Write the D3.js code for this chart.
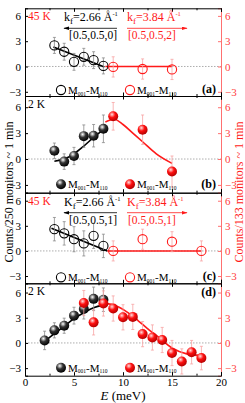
<!DOCTYPE html>
<html>
<head>
<meta charset="utf-8">
<title></title>
<script src="https://d3js.org/d3.v7.min.js"></script>
<style>
body { margin: 0; background: #fff; }
svg { display: block; font-family: "Liberation Serif", "DejaVu Serif", serif; }
</style>
</head>
<body>
<div id="chart"></div>
<script>
const W = 245, H = 403;

// ---- data ----
// (a) 45 K, [0.5,0.5,0] / [0.5,0.5,2]
const aBlackE = [3, 4, 5, 6, 7, 8];
const aBlackY = [2.5, 1.75, 0.55, 1.15, 0.75, 0.07];
const aBlackErr = [0.95, 1.0, 1.0, 1.0, 1.0, 0.95];
const aRedE = [9, 12, 15];
const aRedY = [-0.05, -0.3, -0.35];
const aRedErr = [1.2, 1.2, 1.2];
const aBlackFitE = [2.9, 8.1];
const aBlackFitY = [2.3, -0.05];
const aRedFitE = [8.2, 15];
const aRedFitY = [0, 0];

// (b) 2 K
const bBlackE = [3, 4, 5, 6, 7, 8];
const bBlackY = [0.95, -0.3, 0.35, 2.65, 2.7, 3.5];
const bBlackErr = [0.9, 0.9, 1.0, 1.3, 1.3, 1.6];
const bRedE = [9, 12, 15];
const bRedY = [4.95, 3.4, -1.45];
const bRedErr = [1.6, 1.7, 1.8];
const bBlackFitE = [3, 4, 5, 6, 7, 8];
const bBlackFitY = [-0.25, 0.0, 0.6, 1.5, 2.5, 3.4];
const bRedFitE = [8.2, 9.1, 10, 11, 12, 13.4, 15];
const bRedFitY = [4.3, 4.6, 4.0, 3.0, 2.0, 0.6, -0.5];

// (c) 45 K, [0.5,0.5,1]
const cBlackE = [3, 4, 5, 6, 7, 8];
const cBlackY = [2.6, 2.1, 1.4, 0.9, 1.8, 0.6];
const cBlackErr = [1.4, 1.4, 1.5, 1.5, 1.5, 1.4];
const cRedE = [9, 12, 15, 18];
const cRedY = [0.0, 1.4, 1.1, 0.0];
const cRedErr = [1.2, 1.2, 1.2, 1.2];
const cBlackFitE = [2.7, 8.4];
const cBlackFitY = [2.7, 0];
const cRedFitE = [8.4, 18];
const cRedFitY = [0, 0];

// (d) 2 K
const dBlackE = [2, 3, 4, 5, 6, 7, 8];
const dBlackY = [0.3, 1.5, 2.05, 3.25, 4.05, 5.25, 5.15];
const dBlackErr = [1.1, 0.9, 0.9, 1.0, 1.2, 1.4, 1.4];
const dRedE = [6, 7, 8, 9, 10, 11, 12, 13, 14, 15, 16, 17, 18];
const dRedY = [4.75, 2.45, 4.7, 4.1, 3.05, 3.1, 1.05, 0.65, 0.35, -1.2, -2.2, -1.1, -1.8];
const dRedErr = [1.5, 1.5, 1.5, 1.5, 1.5, 1.5, 1.5, 1.5, 1.5, 1.5, 1.5, 1.4, 1.4];
const dBlackFitE = [2, 3, 4, 5, 6, 7, 8];
const dBlackFitY = [0.2, 1.1, 2.0, 2.9, 3.6, 4.2, 4.5];
const dRedFitE = [7.7, 8.5, 9.5, 10.5, 11.5, 12.5, 13.5, 15, 16.5, 18];
const dRedFitY = [4.6, 4.65, 4.3, 3.6, 2.7, 1.7, 0.8, -0.6, -1.3, -1.5];

const xTicks = [0, 5, 10, 15, 20];
const xMinorTicks = [2.5, 7.5, 12.5, 17.5];
const yTicks = [-3, 0, 3, 6];

const panels = [
  { id: 'a', top: 8.3, bottom: 96, dom: [-3.5, 6.9], open: true, temp: '45 K',
    bE: aBlackE, bY: aBlackY, bErr: aBlackErr, rE: aRedE, rY: aRedY, rErr: aRedErr,
    bfE: aBlackFitE, bfY: aBlackFitY, rfE: aRedFitE, rfY: aRedFitY,
    kLetter: 'k', qB: '[0.5,0.5,0]', qR: '[0.5,0.5,2]' },
  { id: 'b', top: 96, bottom: 192.7, dom: [-3.9, 7.3], open: false, temp: '2 K',
    bE: bBlackE, bY: bBlackY, bErr: bBlackErr, rE: bRedE, rY: bRedY, rErr: bRedErr,
    bfE: bBlackFitE, bfY: bBlackFitY, rfE: bRedFitE, rfY: bRedFitY },
  { id: 'c', top: 192.7, bottom: 283.3, dom: [-3.87, 6.96], open: true, temp: '45 K',
    bE: cBlackE, bY: cBlackY, bErr: cBlackErr, rE: cRedE, rY: cRedY, rErr: cRedErr,
    bfE: cBlackFitE, bfY: cBlackFitY, rfE: cRedFitE, rfY: cRedFitY,
    kLetter: 'K', qB: '[0.5,0.5,1]', qR: '[0.5,0.5,1]' },
  { id: 'd', top: 283.3, bottom: 375.7, dom: [-3.9, 7.1], open: false, temp: '2 K',
    bE: dBlackE, bY: dBlackY, bErr: dBlackErr, rE: dRedE, rY: dRedY, rErr: dRedErr,
    bfE: dBlackFitE, bfY: dBlackFitY, rfE: dRedFitE, rfY: dRedFitY }
];

const RED = '#ff1a1a', PINK = '#f7a3a3', AXRED = '#ff7070';
const left = 25, right = 221;
const x = d3.scaleLinear().domain([0, 20]).range([left, right]);

const svg = d3.select('#chart').append('svg').attr('width', W).attr('height', H);
const defs = svg.append('defs');

function sphere(id, c0, c1, c2) {
  const g = defs.append('radialGradient').attr('id', id)
    .attr('cx', '0.38').attr('cy', '0.32').attr('r', '0.7');
  g.append('stop').attr('offset', '0').attr('stop-color', c0);
  g.append('stop').attr('offset', '0.45').attr('stop-color', c1);
  g.append('stop').attr('offset', '1').attr('stop-color', c2);
}
sphere('sBlack', '#ffffff', '#333333', '#000000');
sphere('sRed', '#ffe0e0', '#ff1010', '#b00000');

function arrowHead(id, color) {
  defs.append('marker').attr('id', id).attr('viewBox', '0 0 10 6')
    .attr('refX', 9).attr('refY', 3).attr('markerWidth', 6).attr('markerHeight', 3.6)
    .attr('orient', 'auto').attr('markerUnits', 'userSpaceOnUse')
    .append('path').attr('d', 'M0,0L10,3L0,6Z').attr('fill', color);
}
arrowHead('arB', '#000');
arrowHead('arR', RED);

function addSubLabel(sel, parts) {
  parts.forEach(p => {
    const t = sel.append('tspan').text(p.t);
    if (p.sub) t.attr('font-size', p.fs || 6).attr('dy', p.dy);
    else if (p.dy) t.attr('dy', p.dy);
  });
}

panels.forEach(p => {
  const y = d3.scaleLinear().domain(p.dom).range([p.bottom, p.top]);
  const g = svg.append('g');

  // zero line
  g.append('line').attr('x1', left).attr('x2', right)
    .attr('y1', y(0)).attr('y2', y(0))
    .attr('stroke', '#999').attr('stroke-width', 0.8).attr('stroke-dasharray', '1.5,1.5');

  // axes
  const yl = g.append('g').attr('transform', `translate(${left},0)`)
    .call(d3.axisLeft(y).tickValues(yTicks).tickSize(-3).tickPadding(4).tickFormat(d3.format('d')));
  yl.select('.domain').attr('stroke', '#000');
  yl.selectAll('text').attr('font-size', 11).attr('font-family', 'Liberation Serif').attr('fill', '#000');

  const yr = g.append('g').attr('transform', `translate(${right},0)`)
    .call(d3.axisRight(y).tickValues(yTicks).tickSize(-3).tickPadding(4).tickFormat(d3.format('d')));
  yr.select('.domain').attr('stroke', AXRED);
  yr.selectAll('line').attr('stroke', AXRED);
  yr.selectAll('text').attr('font-size', 11).attr('font-family', 'Liberation Serif').attr('fill', '#ff4040');

  const xb = g.append('g').attr('transform', `translate(0,${p.bottom})`)
    .call(d3.axisBottom(x).tickValues(xTicks).tickSize(-3.5).tickPadding(2).tickFormat(p.id === 'd' ? d3.format('d') : ''));
  xb.select('.domain').attr('stroke', '#000');
  xb.selectAll('text').attr('font-size', 11).attr('font-family', 'Liberation Serif').attr('fill', '#000');
  g.append('g').attr('transform', `translate(0,${p.bottom})`)
    .call(d3.axisBottom(x).tickValues(xMinorTicks).tickSize(-2).tickFormat(''))
    .select('.domain').remove();
  const xt = g.append('g').attr('transform', `translate(0,${p.top})`)
    .call(d3.axisTop(x).tickValues(xTicks).tickSize(-3.5).tickFormat(''));
  xt.select('.domain').attr('stroke', '#000');
  g.append('g').attr('transform', `translate(0,${p.top})`)
    .call(d3.axisTop(x).tickValues(xMinorTicks).tickSize(-2).tickFormat(''))
    .select('.domain').remove();

  // fit lines
  const line = d3.line().x(d => x(d[0])).y(d => y(d[1])).curve(d3.curveMonotoneX);
  g.append('path').datum(p.bfE.map((e, i) => [e, p.bfY[i]]))
    .attr('d', line).attr('fill', 'none').attr('stroke', '#000').attr('stroke-width', 1.6);
  g.append('path').datum(p.rfE.map((e, i) => [e, p.rfY[i]]))
    .attr('d', line).attr('fill', 'none').attr('stroke', RED).attr('stroke-width', 1.6);

  // error bars + markers
  function series(E, V, Err, ecol, fill, stroke) {
    const d = E.map((e, i) => ({ e, v: V[i], err: Err[i] }));
    g.selectAll(null).data(d).join('line')
      .attr('x1', d => x(d.e)).attr('x2', d => x(d.e))
      .attr('y1', d => y(d.v - d.err)).attr('y2', d => y(d.v + d.err))
      .attr('stroke', ecol).attr('stroke-width', 0.8);
    ['-', '+'].forEach(s => {
      g.selectAll(null).data(d).join('line')
        .attr('x1', d => x(d.e) - 1.5).attr('x2', d => x(d.e) + 1.5)
        .attr('y1', d => y(s === '-' ? d.v - d.err : d.v + d.err))
        .attr('y2', d => y(s === '-' ? d.v - d.err : d.v + d.err))
        .attr('stroke', ecol).attr('stroke-width', 0.8);
    });
    g.selectAll(null).data(d).join('circle')
      .attr('cx', d => x(d.e)).attr('cy', d => y(d.v)).attr('r', p.open ? 4.6 : 5)
      .attr('fill', fill).attr('stroke', stroke).attr('stroke-width', p.open ? 1.1 : 0);
  }
  series(p.bE, p.bY, p.bErr, '#8a8a8a', p.open ? 'none' : 'url(#sBlack)', '#000');
  series(p.rE, p.rY, p.rErr, PINK, p.open ? 'none' : 'url(#sRed)', RED);

  // temperature label
  g.append('text').attr('x', 28).attr('y', p.top + 12).attr('font-size', 11.5)
    .attr('fill', p.open ? RED : '#000').text(p.temp);

  // panel letter
  const ly = p.open ? p.bottom - 3 : (p.id === 'b' ? p.bottom - 5 : p.top + 13);
  g.append('text').attr('x', 216).attr('y', ly).attr('text-anchor', 'end')
    .attr('font-size', 12).attr('font-weight', 'bold').text(`(${p.id})`);

  // legend
  const legY = p.open ? p.bottom - 6 : (p.id === 'b' ? p.bottom - 8.5 : p.bottom - 8);
  [[61, p.open ? 'none' : 'url(#sBlack)', '#000'], [130, p.open ? 'none' : 'url(#sRed)', RED]].forEach(([cx, f, s]) => {
    g.append('circle').attr('cx', cx).attr('cy', legY).attr('r', p.open ? 4.6 : 5)
      .attr('fill', f).attr('stroke', s).attr('stroke-width', p.open ? 1.1 : 0);
    const t = g.append('text').attr('x', cx + 7).attr('y', legY + 4).attr('font-size', 11).attr('fill', '#000');
    addSubLabel(t, [{ t: 'M' }, { t: '001', sub: true, fs: 5.5, dy: 1.5 }, { t: '-M', dy: -1.5 },
      { t: '110', sub: true, fs: 5.5, dy: 1.5 }]);
  });

  // kf annotations
  if (p.open) {
    const ky = p.top + 13;
    const kb = g.append('text').attr('x', 64).attr('y', ky).attr('font-size', 12).attr('fill', '#000');
    addSubLabel(kb, [{ t: p.kLetter }, { t: 'f', sub: true, fs: 9, dy: 3 }, { t: '=2.66 Å', dy: -3 },
      { t: '-1', sub: true, fs: 6.5, dy: -5 }]);
    const kr = g.append('text').attr('x', 127).attr('y', ky).attr('font-size', 12).attr('fill', RED);
    addSubLabel(kr, [{ t: p.kLetter }, { t: 'f', sub: true, fs: 9, dy: 3 }, { t: '=3.84 Å', dy: -3 },
      { t: '-1', sub: true, fs: 6.5, dy: -5 }]);
    const ay = p.top + 20;
    g.append('line').attr('x1', 117).attr('x2', 64).attr('y1', ay).attr('y2', ay)
      .attr('stroke', '#000').attr('stroke-width', 0.8).attr('marker-end', 'url(#arB)');
    g.append('line').attr('x1', 127).attr('x2', 187).attr('y1', ay).attr('y2', ay)
      .attr('stroke', RED).attr('stroke-width', 0.8).attr('marker-end', 'url(#arR)');
    g.append('text').attr('x', 117).attr('y', p.top + 31).attr('text-anchor', 'end')
      .attr('font-size', 11.5).attr('fill', '#000').text(p.qB);
    g.append('text').attr('x', 128).attr('y', p.top + 31)
      .attr('font-size', 11.5).attr('fill', RED).text(p.qR);
  }
});

// axis titles
const midY = (8.3 + 375.7) / 2;
svg.append('text').attr('transform', `translate(12.5,${midY}) rotate(-90)`)
  .attr('text-anchor', 'middle').attr('font-size', 12).attr('fill', '#000')
  .text('Counts/250 monitors ~ 1 min');
svg.append('text').attr('transform', `translate(242.5,${midY}) rotate(-90)`)
  .attr('text-anchor', 'middle').attr('font-size', 12).attr('fill', RED)
  .text('Counts/133 monitors ~ 1 min');
const xt = svg.append('text').attr('x', 123).attr('y', 399.5).attr('text-anchor', 'middle')
  .attr('font-size', 13).attr('fill', '#000');
xt.append('tspan').attr('font-style', 'italic').text('E');
xt.append('tspan').text(' (meV)');
</script>
</body>
</html>
